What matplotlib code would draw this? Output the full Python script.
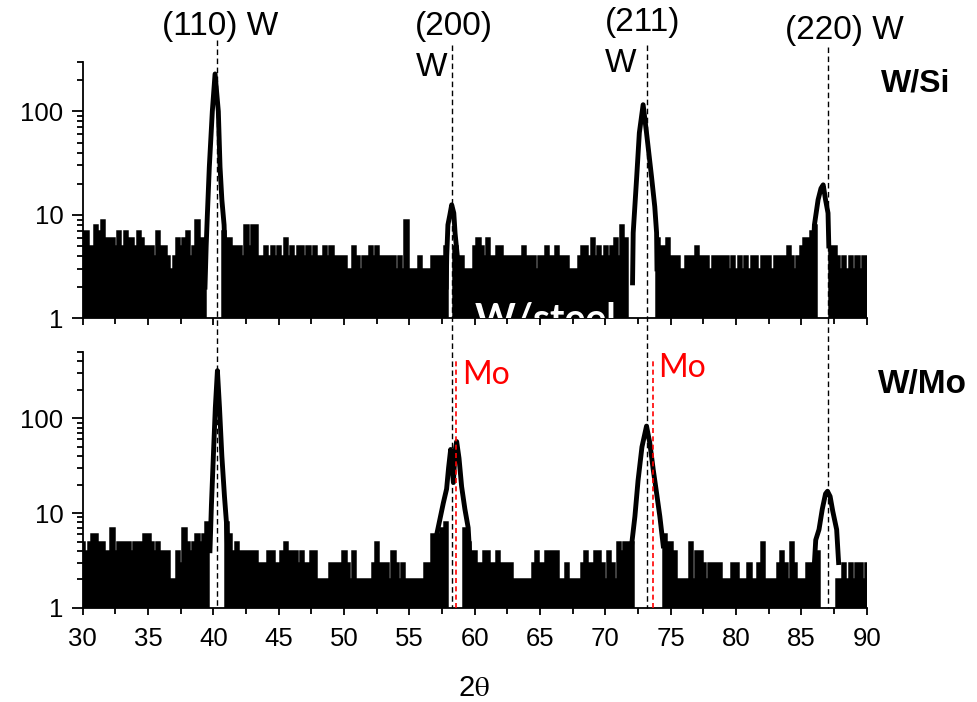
import numpy as np
import matplotlib.pyplot as plt
from matplotlib.ticker import MultipleLocator, LogLocator, NullFormatter, FuncFormatter
from matplotlib.transforms import blended_transform_factory

plt.rcParams['font.family'] = ['Liberation Sans', 'DejaVu Sans']
plt.rcParams['mathtext.fontset'] = 'stix'

STEP = 0.25  # background sampling step in 2theta

# ---- W/Si : background envelope (counts), one list per stretch between peaks
si_start = [30.0, 40.75, 58.5, 74.0, 87.25]
si_bg = [
    [7, 7, 5, 5, 8, 7, 9, 6, 6, 6, 5, 7, 5, 7, 6, 6, 5, 7, 6, 5, 5, 5, 4, 7, 5,
     5, 4, 3, 4, 6, 5, 6, 7, 4, 5, 9, 6, 6],
    [7, 6, 6, 5, 5, 5, 4, 8, 5, 8, 8, 4, 4, 5, 4, 5, 4, 5, 4, 6, 4, 5, 4, 5, 5,
     4, 5, 4, 5, 4, 4, 5, 4, 5, 4, 4, 4, 4, 3, 3, 5, 4, 3, 4, 4, 5, 4, 5, 4, 4,
     4, 4, 4, 3, 4, 3, 9, 3, 3, 3, 4, 3, 3, 3, 4, 4, 4, 4, 5],
    [5, 4, 4, 3, 3, 3, 5, 6, 5, 4, 6, 4, 4, 5, 5, 4, 4, 4, 4, 4, 4, 5, 4, 4, 4,
     3, 4, 4, 5, 4, 4, 5, 4, 4, 4, 3, 3, 3, 4, 5, 5, 4, 6, 4, 5, 4, 5, 4, 5, 6,
     4, 8, 6],
    [6, 5, 5, 6, 4, 4, 4, 3, 3, 4, 4, 4, 5, 4, 4, 4, 3, 4, 4, 4, 4, 4, 3, 4, 3,
     4, 3, 4, 3, 4, 4, 3, 4, 4, 4, 3, 4, 4, 4, 4, 5, 4, 3, 4, 5, 6, 6, 7, 8],
    [5, 5, 4, 3, 4, 3, 4, 3, 4, 3, 4, 4],
]
# W/Si peak profiles
si_110_x = [39.36, 39.45, 39.54, 39.69, 39.92, 40.13, 40.38, 40.51, 40.65, 40.82, 40.9]
si_110_y = [2, 5, 10, 29, 100, 230, 100, 29, 14, 8, 4]
si_200_x = [57.82, 57.86, 57.95, 58.1, 58.24, 58.4, 58.5, 58.67]
si_200_y = [2, 4, 8, 10, 12.5, 10.4, 6.6, 4]
si_211_x = [72.08, 72.13, 72.4, 72.6, 72.89, 73.15, 73.53, 73.78, 73.92, 73.95]
si_211_y = [2.2, 6.7, 23.5, 62, 116, 62, 23.5, 12, 6.7, 3]
si_220_x = [85.9, 86.0, 86.28, 86.5, 86.67, 86.85, 87.04, 87.1]
si_220_y = [4, 8, 14, 18, 19.5, 14, 10.4, 5]

# ---- W/Mo
mo_start = [30.0, 41.0, 59.25, 74.5, 87.75]
mo_bg = [
    [5, 4, 5, 6, 6, 5, 5, 4, 4, 7, 4, 5, 5, 5, 5, 4, 5, 5, 5, 6, 6, 5, 4, 5, 4,
     4, 4, 2, 2, 4, 3, 7, 5, 4, 5, 6, 5, 6, 8],
    [8, 6, 4, 5, 4, 4, 4, 4, 4, 4, 3, 3, 3, 4, 4, 3, 3, 4, 5, 4, 4, 4, 3, 4, 3,
     3, 4, 4, 2, 2, 2, 2, 3, 3, 3, 3, 4, 3, 2, 4, 2, 2, 2, 2, 2, 3, 5, 3, 3, 3,
     2, 4, 3, 2, 3, 2, 2, 2, 2, 2, 2, 3, 3, 6, 4, 6, 7, 8],
    [7, 5, 4, 4, 3, 3, 4, 4, 3, 3, 4, 3, 3, 3, 3, 2, 2, 2, 2, 2, 2, 3, 4, 3, 3,
     4, 4, 4, 4, 2, 2, 3, 2, 2, 2, 2, 3, 4, 3, 3, 4, 4, 3, 2, 4, 3, 2, 5, 4, 5,
     5, 5],
    [6, 5, 5, 4, 2, 2, 2, 2, 5, 2, 4, 4, 3, 2, 3, 3, 3, 3, 2, 2, 2, 3, 3, 2, 2,
     2, 3, 2, 2, 3, 5, 2, 2, 2, 2, 3, 4, 3, 2, 5, 3, 2, 2, 2, 3, 3, 3, 4],
    [2, 2, 3, 2, 3, 2, 3, 3, 2, 3],
]
mo_110_x = [39.74, 39.85, 40.0, 40.15, 40.31, 40.47, 40.65, 40.85, 41.0, 41.1]
mo_110_y = [4, 12, 40, 130, 320, 130, 40, 15, 8, 4]
mo_200_x = [57.0, 57.1, 57.6, 57.85, 58.0, 58.16, 58.37, 58.5, 58.62, 58.8, 59.0,
            59.25, 59.5, 59.6]
mo_200_y = [3, 6, 12.8, 18, 30, 47, 21, 45, 57, 38, 19, 11, 7, 4]
mo_211_x = [72.0, 72.26, 72.5, 72.8, 73.15, 73.4, 73.66, 73.9, 74.17, 74.43]
mo_211_y = [4.5, 9.2, 22, 50, 83, 55, 29, 17, 9.2, 4.5]
mo_220_x = [86.0, 86.1, 86.35, 86.6, 86.85, 87.0, 87.2, 87.4, 87.7, 87.85]
mo_220_y = [3, 5.2, 6.7, 11, 16, 17, 15, 10.5, 6.7, 3]

# reference line positions
w_lines = [40.26, 58.24, 73.15, 87.0]
w_tops_px = [40, 45, 45, 47]
mo_lines = [58.57, 73.68]

W, H = 978, 702
fig = plt.figure(figsize=(W / 100, H / 100), dpi=100)
ax1 = fig.add_axes([82.7 / W, 1 - 318.3 / H, 784 / W, 256.3 / H])
ax2 = fig.add_axes([82.7 / W, 1 - 607.7 / H, 784 / W, 255.4 / H])


def draw_panel(ax, starts, segs, peaks, ymax):
    for s, vals in zip(starts, segs):
        edges = s - STEP / 2 + STEP * np.arange(len(vals) + 1)
        ax.stairs(vals, edges, baseline=0.5, fill=True, facecolor='k',
                  edgecolor='k', linewidth=1.8)
    for px, py in peaks:
        ax.plot(px, py, color='k', lw=3.5)
    ax.set_yscale('log')
    ax.set_xlim(30, 90)
    ax.set_ylim(1, ymax)
    for side in ['top', 'right']:
        ax.spines[side].set_visible(False)
    for side in ['left', 'bottom']:
        ax.spines[side].set_linewidth(1.3)
    ax.xaxis.set_major_locator(MultipleLocator(5))
    ax.xaxis.set_minor_locator(MultipleLocator(2.5))
    ax.yaxis.set_major_locator(LogLocator(base=10))
    ax.yaxis.set_minor_locator(LogLocator(base=10, subs=np.arange(2, 10)))
    ax.yaxis.set_major_formatter(FuncFormatter(lambda v, p: f'{v:g}'))
    ax.yaxis.set_minor_formatter(NullFormatter())
    ax.tick_params(which='both', direction='out', width=1.3, labelsize=18.5)
    ax.tick_params(axis='y', which='major', length=8, pad=6)
    ax.tick_params(axis='y', which='minor', length=4.5)
    ax.tick_params(axis='x', which='major', length=5, pad=9)
    ax.tick_params(axis='x', which='minor', length=4)


draw_panel(ax1, si_start, si_bg,
           [(si_110_x, si_110_y), (si_200_x, si_200_y),
            (si_211_x, si_211_y), (si_220_x, si_220_y)], 300)
draw_panel(ax2, mo_start, mo_bg,
           [(mo_110_x, mo_110_y), (mo_200_x, mo_200_y),
            (mo_211_x, mo_211_y), (mo_220_x, mo_220_y)], 500)
ax1.tick_params(labelbottom=False)

# cut-off label of the hidden middle panel
ax1.text(0.5004, -0.046, 'W/steel', transform=ax1.transAxes, color='white',
         fontsize=28, fontweight='bold', family=['Lato', 'DejaVu Sans'],
         ha='left', va='baseline', clip_on=True)

# dashed reference lines
trans = blended_transform_factory(ax2.transData, fig.transFigure)
for x, top in zip(w_lines, w_tops_px):
    ax2.plot([x, x], [1 - top / H, 1 - 607.7 / H], transform=trans, color='k',
             lw=1.0, ls=(0, (4, 2.5)), clip_on=False, zorder=5)
for x in mo_lines:
    ax2.plot([x, x], [1, 405], color='red', lw=1.2, ls=(0, (3, 2)), zorder=5)


def ftext(px, py, s, **kw):
    fig.text(px / W, 1 - py / H, s, va='center', **kw)


ftext(220, 26, '(110) W', ha='center', fontsize=24)
ftext(415, 26, '(200)', ha='left', fontsize=24)
ftext(416, 67, 'W', ha='left', fontsize=24)
ftext(605, 23, '(211)', ha='left', fontsize=24)
ftext(605, 63, 'W', ha='left', fontsize=24)
ftext(844, 31, '(220) W', ha='center', fontsize=24)
ftext(916, 84, 'W/Si', ha='center', fontsize=23, fontweight='bold')
ftext(922, 385, 'W/Mo', ha='center', fontsize=24, fontweight='bold')
ftext(486, 375, 'Mo', ha='center', fontsize=23, color='red', family=['Lato', 'DejaVu Sans'])
ftext(682, 368, 'Mo', ha='center', fontsize=23, color='red', family=['Lato', 'DejaVu Sans'])
ftext(474, 688, '2$\\mathrm{\\theta}$', ha='center', fontsize=21)

fig.savefig('out.png', dpi=100)
